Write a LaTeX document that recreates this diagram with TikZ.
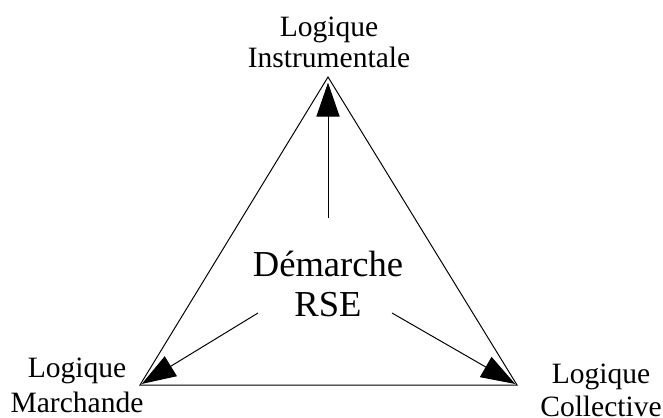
\documentclass[tikz,border=0pt]{standalone}
\usepackage{fontspec}
\setmainfont{Liberation Serif}
\usetikzlibrary{arrows.meta}

\begin{document}
\begin{tikzpicture}[x=0.025cm, y=-0.025cm, >={Triangle[length=0.85cm, width=0.58cm]},
    logique/.style={align=center, inner sep=0pt, anchor=north},
    fleche/.style={->, line width=0.7pt}]
    \useasboundingbox (0,0) rectangle (663,417);
    % sommets du triangle
    \coordinate (haut) at (328,77);
    \coordinate (gauche) at (140,385);
    \coordinate (droite) at (517,385);
    \draw[line width=0.7pt] (haut) -- (gauche) -- (droite) -- cycle;
    % les trois logiques
    \node[logique, font=\fontsize{21}{22}\selectfont] (instru) at (329,17) {Logique\\Instrumentale};
    \node[logique, font=\fontsize{21}{24.5}\selectfont] (marchande) at (77,358) {Logique\\Marchande};
    \node[logique, font=\fontsize{21}{23}\selectfont] (collective) at (601,364) {Logique\\Collective};
    % centre
    \node[logique, font=\fontsize{26}{28.5}\selectfont] (rse) at (328,251) {Démarche\\RSE};
    \coordinate (rse-haut) at (328,218);
    \coordinate (rse-gauche) at (258,313);
    \coordinate (rse-droite) at (392,313);
    \draw[fleche, shorten >=4pt] (rse-haut) -- (haut);
    \draw[fleche, shorten >=1.5pt] (rse-gauche) -- (gauche);
    \draw[fleche, shorten >=1.5pt] (rse-droite) -- (droite);
\end{tikzpicture}
\end{document}
